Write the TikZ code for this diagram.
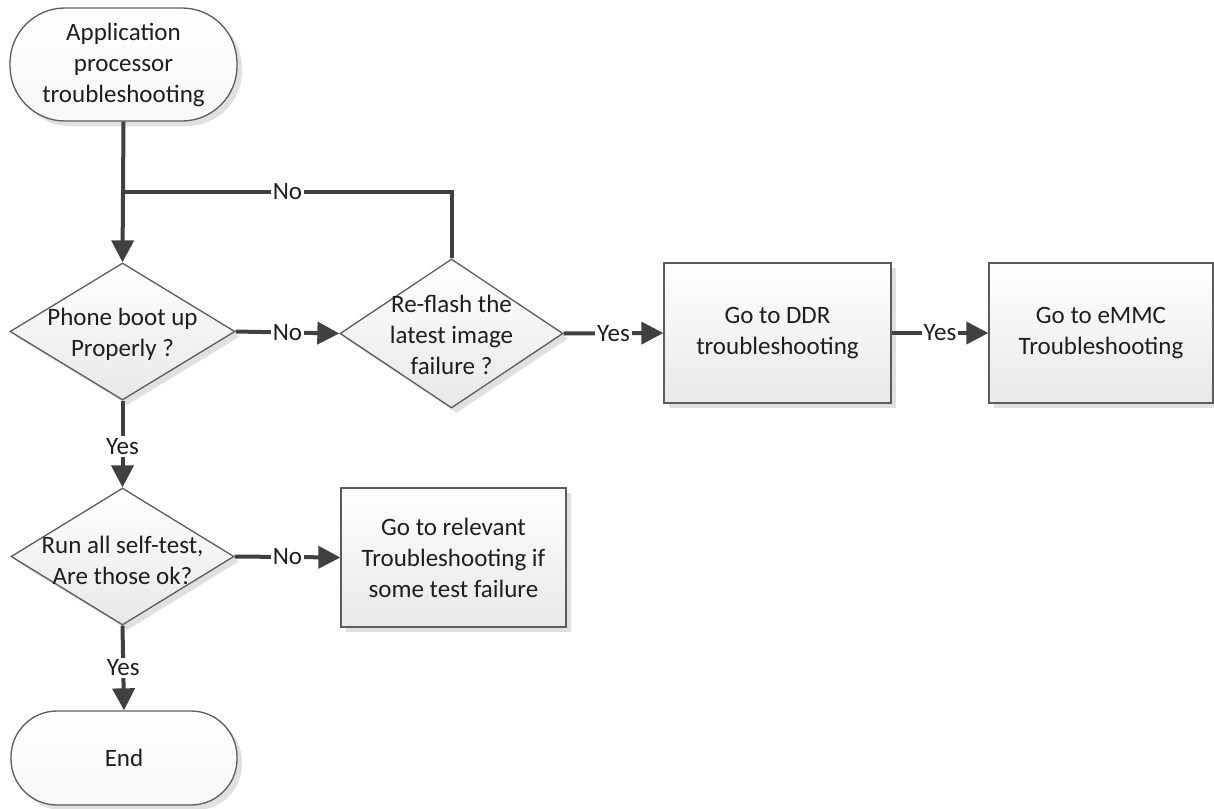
\documentclass[tikz,border=0pt]{standalone}
\usepackage{fontspec}
\setmainfont{Carlito}
\usetikzlibrary{shapes.geometric,arrows.meta,shadows}

\definecolor{linecol}{HTML}{404040}
\definecolor{edgecol}{HTML}{5C5C5C}
\definecolor{txtcol}{HTML}{1E1E1E}

\begin{document}
\begin{tikzpicture}[x=1pt,y=-1pt,
  every node/.style={font=\fontsize{25}{31}\selectfont, text=txtcol},
  shapebase/.style={draw=edgecol, line width=1.3pt, inner sep=0pt,
    top color=white, bottom color=black!9,
    drop shadow={shadow xshift=5pt, shadow yshift=-5pt, fill=black!12, opacity=1}},
  term/.style={shapebase, rectangle, top color=white, bottom color=black!3, align=center},
  decision/.style={shapebase, diamond},
  procbox/.style={shapebase, rectangle, align=center},
  caption/.style={align=center, inner sep=0pt},
  flow/.style={draw=linecol, line width=4pt, -{Triangle[length=22pt,width=22pt]}},
  plain/.style={draw=linecol, line width=4pt},
  tag/.style={fill=white, inner sep=2pt}
]
\useasboundingbox (0,0) rectangle (1214,808);

% start / end terminators
\node[term, minimum width=227pt, minimum height=113pt, rounded corners=55pt]
  (start) at (123.5,64.5) {Application\\processor\\troubleshooting};
\node[term, minimum width=226pt, minimum height=94pt, rounded corners=46pt]
  (finish) at (124,758) {End};

% decisions
\node[decision, minimum width=225pt, minimum height=137pt] (d1) at (122.5,331.5) {};
\node[caption] (d1t) at ([yshift=-3pt]d1.center) {Phone boot up\\Properly ?};

\node[decision, minimum width=223pt, minimum height=149pt] (d2) at (451.5,333.5) {};
\node[caption] (d2t) at ([yshift=-1pt]d2.center) {Re-flash the\\latest image\\failure ?};

\node[decision, minimum width=223pt, minimum height=137pt] (d3) at (122.5,556.5) {};
\node[caption] (d3t) at ([yshift=-4pt]d3.center) {Run all self-test,\\Are those ok?};

% process boxes
\node[procbox, minimum width=227pt, minimum height=140pt] (ddr) at (777.5,333) {Go to DDR\\troubleshooting};
\node[procbox, minimum width=224pt, minimum height=140pt] (emmc) at (1101,333) {Go to eMMC\\Troubleshooting};
\node[procbox, minimum width=225pt, minimum height=139pt] (rel) at (453.5,557.5) {Go to relevant\\Troubleshooting if\\some test failure};

% connectors
\coordinate (merge) at (start.south |- 0,192);
\draw[flow] (start.south) -- (d1.north);
\draw[plain] (d2.north) |- node[tag, pos=0.75] (nofb) {No} (merge);
\draw[flow] (d1.east) -- node[tag] (no1) {No} (d2.west);
\draw[flow] (d2.east) -- node[tag] (yes1) {Yes} (ddr.west);
\draw[flow] (ddr.east) -- node[tag] (yes2) {Yes} (emmc.west);
\draw[flow] (d1.south) -- node[tag, pos=0.53] (yes3) {Yes} (d3.north);
\draw[flow] (d3.east) -- node[tag] (no2) {No} (rel.west);
\draw[flow] (d3.south) -- node[tag] (yes4) {Yes} (finish.north);
\end{tikzpicture}
\end{document}
